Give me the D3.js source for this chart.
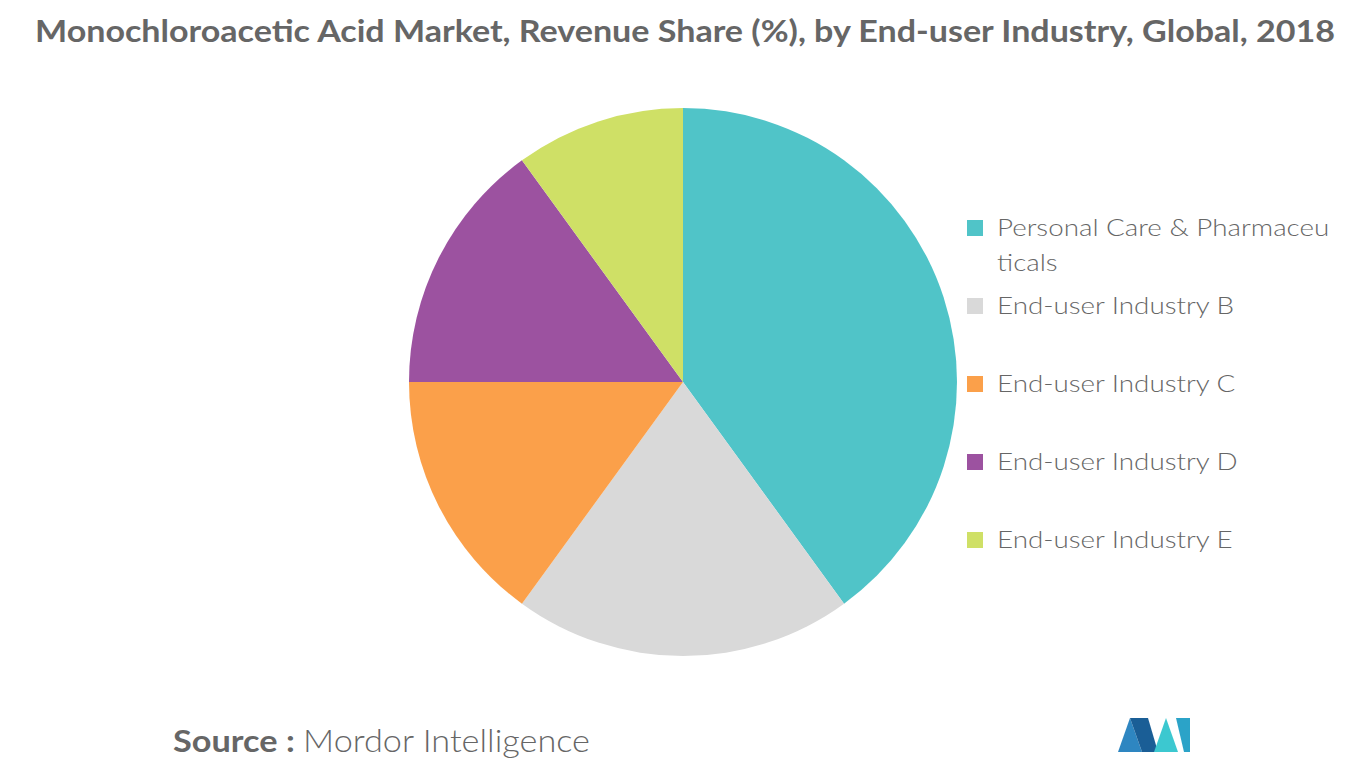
<!DOCTYPE html>
<html><head><meta charset="utf-8">
<script src="https://cdn.jsdelivr.net/npm/d3@7"></script>
<style>body{margin:0;background:#fff;font-family:Lato,"Open Sans",sans-serif;}</style>
</head><body>
<svg id="c" width="1366" height="768"></svg>
<script>
const categories = ["Personal Care & Pharmaceuticals","End-user Industry B","End-user Industry C","End-user Industry D","End-user Industry E"];
const legendLines = [["Personal Care & Pharmaceu","ticals"],["End-user Industry B"],["End-user Industry C"],["End-user Industry D"],["End-user Industry E"]];
const values = [40,20,15,15,10];
const colors = ["#50c4c8","#d9d9d9","#fba04a","#9c52a0","#cfe066"];

const svg = d3.select("#c");
svg.append("text").attr("x",35).attr("y",42)
  .attr("font-size",30).attr("font-weight",700).attr("fill","#666")
  .attr("textLength",1300).attr("lengthAdjust","spacingAndGlyphs")
  .text("Monochloroacetic Acid Market, Revenue Share (%), by End-user Industry, Global, 2018");

const pie = d3.pie().sort(null).value(d=>d);
const arc = d3.arc().innerRadius(0).outerRadius(274);
const g = svg.append("g").attr("transform","translate(683,382)");
g.selectAll("path").data(pie(values)).join("path").attr("d",arc).attr("fill",(d,i)=>colors[i]);

const ly = [228,306,384,462,540];
const lg = svg.append("g");
const scaleW = 338/292;
legendLines.forEach((lines,i)=>{
  lg.append("rect").attr("x",967).attr("y",ly[i]-8).attr("width",16).attr("height",16).attr("fill",colors[i]);
  lines.forEach((l,j)=>{
    const t = lg.append("text").attr("x",997).attr("y",ly[i]+8+j*35).attr("font-size",24).attr("fill","#666").attr("font-weight",300).text(l);
    const w = t.node().getComputedTextLength();
    t.attr("textLength",w*scaleW).attr("lengthAdjust","spacingAndGlyphs");
  });
});

const s = svg.append("text").attr("x",173).attr("y",752).attr("font-size",31).attr("fill","#666")
  .attr("textLength",417).attr("lengthAdjust","spacingAndGlyphs");
s.append("tspan").attr("font-weight",700).text("Source : ");
s.append("tspan").attr("font-weight",300).text("Mordor Intelligence");

const logo = svg.append("g").attr("transform","translate(1118,718)");
logo.append("path").attr("d","M0,34 L12,0 L24,34 Z").attr("fill","#2e86c1");
logo.append("path").attr("d","M12,0 L30,0 L40,34 L24,34 Z").attr("fill","#1a5e96");
logo.append("path").attr("d","M36,34 L48,0 L60,34 Z").attr("fill","#3cc8d0");
logo.append("path").attr("d","M58,0 L72,0 L72,34 L66,34 Z").attr("fill","#2ba3c8");
</script>
</body></html>
